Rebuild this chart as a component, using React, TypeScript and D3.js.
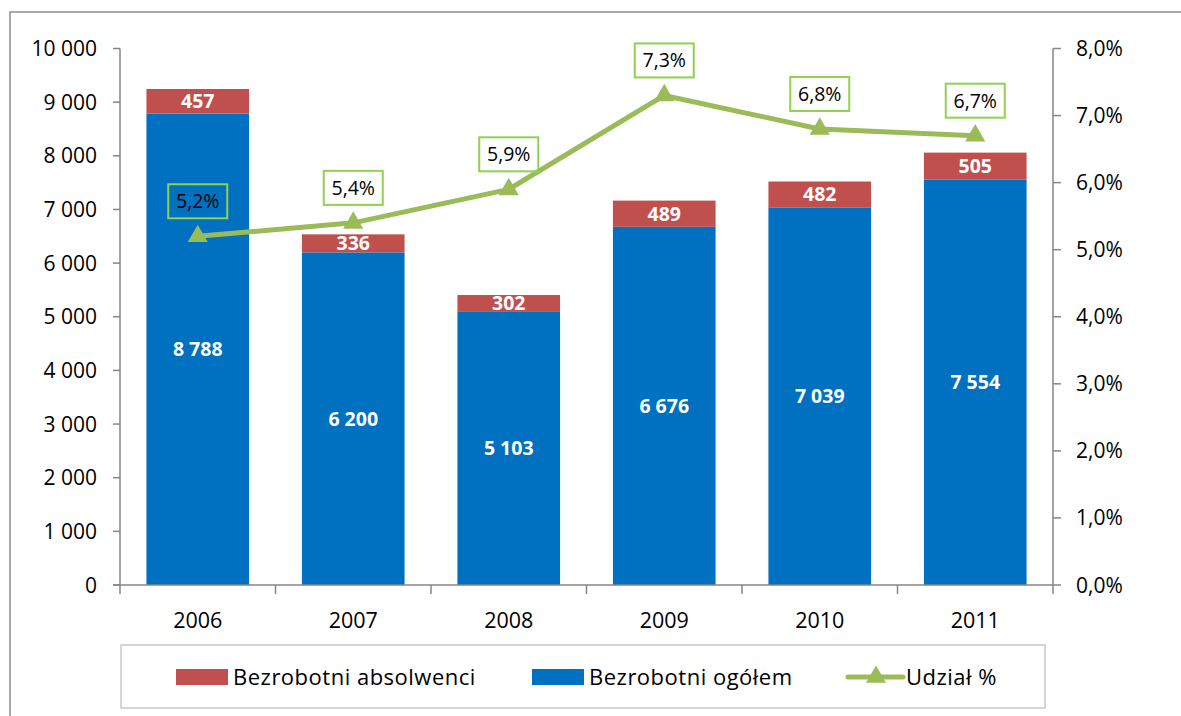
import React from "react";
import * as d3 from "d3";

const years = ["2006", "2007", "2008", "2009", "2010", "2011"];
const ogolem = [8788, 6200, 5103, 6676, 7039, 7554];
const absolwenci = [457, 336, 302, 489, 482, 505];
const udzial = [5.2, 5.4, 5.9, 7.3, 6.8, 6.7];
const leftTicks = [0, 1000, 2000, 3000, 4000, 5000, 6000, 7000, 8000, 9000, 10000];
const rightTicks = [0, 1, 2, 3, 4, 5, 6, 7, 8];

const RED = "#C0504D", BLUE = "#0070C0", GREEN = "#9BBB59", BOX = "#92D050", AXIS = "#868686";
const font = "'Open Sans', Lato, sans-serif";

const W = 1181, H = 716;
const left = 120, right = 1053, top = 48.5, bottom = 585;

const fmtThousands = (v: number) => d3.format(",")(v).replace(/,/g, " ");
const fmtPct = (v: number) => d3.format(".1f")(v).replace(".", ",") + "%";

const App = () => {
    const x = d3.scaleBand<string>().domain(years).range([left, right]).paddingInner(0.34).paddingOuter(0.17);
    const step = (right - left) / years.length;
    const y = d3.scaleLinear().domain([0, 10000]).range([bottom, top]);
    const y2 = d3.scaleLinear().domain([0, 8]).range([bottom, top]);
    const cx = (yr: string) => (x(yr) as number) + x.bandwidth() / 2;

    const line = d3.line<number>()
        .x((d, i) => cx(years[i]))
        .y(d => y2(d));
    const tri = d3.symbol().type(d3.symbolTriangle).size(175)();

    return (
        <svg width={W} height={H} style={{ position: "absolute", left: 0, top: 0, background: "#fff" }}>
            {/* outer frame, cut by the page edge */}
            <rect x={10} y={12} width={1300} height={800} fill="#fff" stroke="#8c8c8c" strokeWidth={1.5} />

            {/* bars */}
            {years.map((yr, i) => (
                <g key={yr}>
                    <rect x={x(yr)} width={x.bandwidth()} y={y(ogolem[i])} height={y(0) - y(ogolem[i])} fill={BLUE} />
                    <rect x={x(yr)} width={x.bandwidth()} y={y(ogolem[i] + absolwenci[i])}
                        height={y(ogolem[i]) - y(ogolem[i] + absolwenci[i])} fill={RED} />
                    <text x={cx(yr)} y={y(ogolem[i] / 2)} dy="0.36em" textAnchor="middle" fill="#fff"
                        fontWeight="bold" fontSize={19.5} fontFamily={font}>{fmtThousands(ogolem[i])}</text>
                    <text x={cx(yr)} y={y(ogolem[i] + absolwenci[i] / 2)} dy="0.36em" textAnchor="middle" fill="#fff"
                        fontWeight="bold" fontSize={19.5} fontFamily={font}>{absolwenci[i]}</text>
                </g>
            ))}

            {/* left axis */}
            <line x1={left} x2={left} y1={top} y2={bottom} stroke={AXIS} strokeWidth={1.5} />
            {leftTicks.map(t => (
                <g key={t}>
                    <line x1={left - 7} x2={left} y1={y(t)} y2={y(t)} stroke={AXIS} strokeWidth={1.5} />
                    <text x={97} y={y(t)} dy="0.36em" textAnchor="end" fontSize={21} fontFamily={font} fill="#000">
                        {fmtThousands(t)}</text>
                </g>
            ))}

            {/* right axis */}
            <line x1={right} x2={right} y1={top} y2={bottom} stroke={AXIS} strokeWidth={1.5} />
            {rightTicks.map(t => (
                <g key={t}>
                    <line x1={right} x2={right + 8} y1={y2(t)} y2={y2(t)} stroke={AXIS} strokeWidth={1.5} />
                    <text x={1076} y={y2(t)} dy="0.36em" fontSize={21} fontFamily={font} fill="#000">{fmtPct(t)}</text>
                </g>
            ))}

            {/* x axis */}
            <line x1={left - 7} x2={right} y1={bottom} y2={bottom} stroke={AXIS} strokeWidth={1.5} />
            {d3.range(years.length + 1).map(i => (
                <line key={i} x1={left + step * i} x2={left + step * i} y1={bottom} y2={bottom + 9} stroke={AXIS} strokeWidth={1.5} />
            ))}
            {years.map(yr => (
                <text key={yr} x={cx(yr)} y={620} dy="0.36em" textAnchor="middle" fontSize={21.5} fontFamily={font} fill="#000">{yr}</text>
            ))}

            {/* share line */}
            <path d={line(udzial) as string} fill="none" stroke={GREEN} strokeWidth={5} strokeLinejoin="round" />
            {udzial.map((v, i) => (
                <g key={i}>
                    <path d={tri as string} transform={`translate(${cx(years[i])},${y2(v)})`} fill={GREEN} />
                    <rect x={cx(years[i]) - 29.5} y={y2(v) - 52} width={59} height={34} fill="none" stroke={BOX} strokeWidth={2} />
                    <text x={cx(years[i])} y={y2(v) - 35} dy="0.36em" textAnchor="middle" fontSize={19.5} fontFamily={font} fill="#000">
                        {fmtPct(v)}</text>
                </g>
            ))}

            {/* legend */}
            <rect x={121} y={645} width={924} height={63} fill="#fff" stroke="#c8c8c8" strokeWidth={1.5} />
            <rect x={176} y={669} width={52} height={16} fill={RED} />
            <text x={233} y={677} dy="0.36em" fontSize={22} letterSpacing={0.5} fontFamily={font} fill="#000">Bezrobotni absolwenci</text>
            <rect x={532} y={669} width={52} height={16} fill={BLUE} />
            <text x={589} y={677} dy="0.36em" fontSize={22} letterSpacing={0.5} fontFamily={font} fill="#000">Bezrobotni ogółem</text>
            <line x1={848} x2={903} y1={677} y2={677} stroke={GREEN} strokeWidth={5} strokeLinecap="round" />
            <path d={tri as string} transform="translate(876,677)" fill={GREEN} />
            <text x={906} y={677} dy="0.36em" fontSize={22} letterSpacing={0.5} fontFamily={font} fill="#000">Udział %</text>
        </svg>
    );
};

export default App;
